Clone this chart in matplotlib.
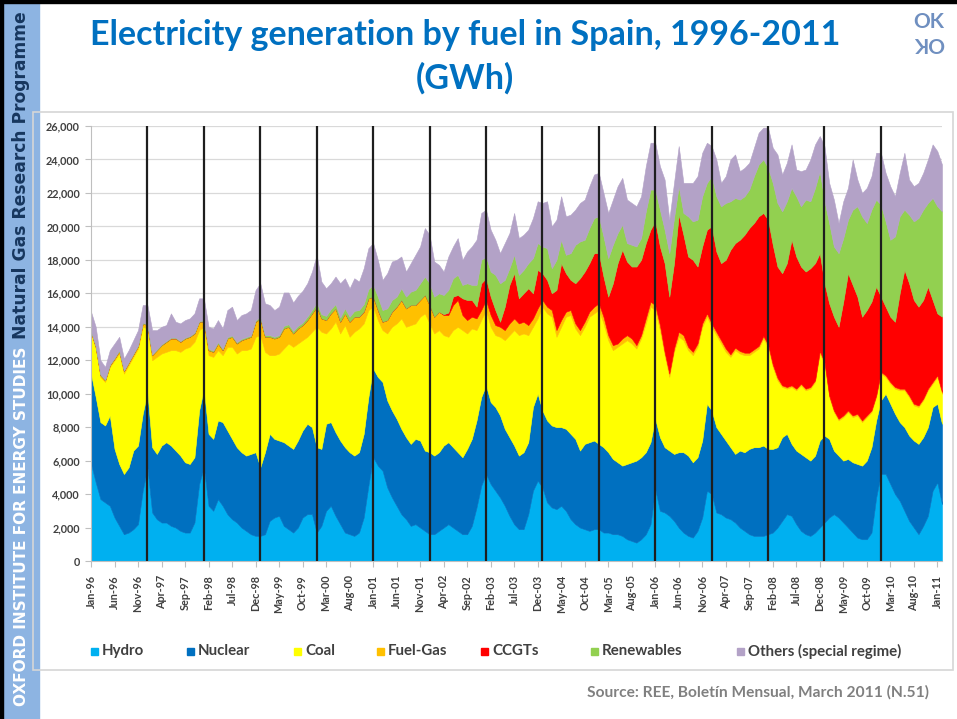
import matplotlib
matplotlib.use('Agg')
import matplotlib.pyplot as plt
from matplotlib.patches import Rectangle
import numpy as np

W, H = 957, 719

# Monthly generation, GWh, Jan-96 .. Feb-11 (one row per year)
hydro = [
    5800, 4700, 3700, 3500, 3300, 2600, 2100, 1600, 1700, 1900, 2200, 4200,
    5600, 2900, 2500, 2300, 2300, 2100, 2000, 1800, 1700, 1700, 2300, 4600,
    5600, 3300, 3000, 3700, 3300, 2800, 2500, 2300, 2000, 1800, 1600, 1500,
    1500, 1600, 2400, 2600, 2700, 2100, 1900, 1700, 2000, 2600, 2800, 2800,
    1700, 2100, 3000, 3300, 2700, 2200, 1700, 1600, 1500, 1700, 2600, 4500,
    6200, 5700, 5400, 4400, 3800, 3300, 2800, 2500, 2100, 2200, 2000, 1800,
    1600, 1600, 1800, 2000, 2200, 2000, 1800, 1600, 1600, 2100, 3200, 4500,
    5200, 4600, 4200, 3800, 3300, 2700, 2200, 1900, 1900, 2800, 4200, 4800,
    4400, 3500, 3200, 3100, 3300, 3000, 2500, 2200, 2000, 1900, 1800, 1900,
    1900, 1700, 1700, 1600, 1600, 1500, 1300, 1200, 1100, 1300, 1600, 2200,
    4300, 3000, 2900, 2700, 2400, 2000, 1700, 1500, 1400, 1800, 2600, 4200,
    4000, 2900, 2800, 2600, 2500, 2300, 2000, 1800, 1600, 1500, 1500, 1500,
    1600, 1700, 2000, 2400, 2800, 2700, 2200, 1800, 1600, 1500, 1700, 2000,
    2300, 2600, 2800, 2600, 2300, 2000, 1700, 1400, 1300, 1300, 1700, 3800,
    5200, 5200, 4600, 4000, 3600, 3000, 2400, 2000, 1600, 2100, 2700, 4200,
    4700, 3400,
]
nuclear = [
    5400, 5100, 4600, 4600, 5400, 4100, 3700, 3600, 3900, 4700, 4700, 4600,
    4500, 3900, 3900, 4600, 4800, 4800, 4600, 4500, 4200, 4100, 3900, 4400,
    4700, 4300, 4300, 4700, 5000, 5000, 4800, 4500, 4500, 4500, 4800, 5000,
    4100, 4900, 5200, 4700, 4500, 5000, 5000, 5000, 5200, 5200, 5400, 5200,
    5100, 4600, 5200, 5000, 5000, 5000, 5100, 4900, 4800, 4800, 5000, 5300,
    5300, 5300, 5300, 5200, 5200, 5200, 5100, 4900, 4900, 5100, 5200, 4800,
    4900, 4700, 4700, 4900, 4900, 4800, 4700, 4600, 5100, 5200, 5200, 5300,
    5300, 4900, 5000, 4900, 4600, 4700, 4700, 4400, 4600, 4300, 5000, 5200,
    4600, 4900, 4900, 4900, 4700, 4900, 5100, 5100, 4600, 5100, 5300, 5300,
    5100, 5100, 4800, 4500, 4300, 4200, 4500, 4700, 4900, 4900, 4900, 4900,
    4200, 4400, 3900, 3900, 4000, 4500, 4800, 4800, 4500, 4400, 4600, 5200,
    5000, 5100, 4800, 4600, 4300, 4100, 4600, 4700, 5100, 5300, 5300, 5400,
    5100, 5000, 4800, 5000, 4800, 4300, 4400, 4600, 4600, 4500, 4600, 5200,
    5200, 4700, 3800, 3700, 3700, 4100, 4200, 4400, 4400, 4700, 5100, 4600,
    4400, 4800, 4800, 4800, 4700, 5000, 5100, 5200, 5400, 5300, 5300, 5000,
    4700, 4800,
]
coal = [
    2400, 2900, 2700, 2600, 2900, 5300, 6600, 6000, 6100, 5600, 5800, 5200,
    3800, 5200, 5800, 5500, 5400, 5700, 6000, 6200, 6800, 7000, 6900, 4800,
    3700, 4700, 4900, 4200, 4000, 5000, 5500, 5600, 6100, 6300, 6300, 6900,
    7900, 6000, 4700, 5000, 5200, 5600, 6100, 6100, 5800, 5400, 5200, 5700,
    7200, 7000, 5400, 5600, 6600, 6400, 7300, 6900, 7400, 7400, 6600, 5200,
    3700, 3400, 3100, 4000, 5000, 5700, 6600, 6600, 7100, 6900, 7400, 8200,
    7700, 7300, 7300, 6600, 6300, 7000, 7500, 7600, 6900, 6600, 5400, 4600,
    4500, 4500, 4300, 4700, 5300, 6100, 6900, 7200, 7100, 6400, 4800, 4500,
    6200, 6400, 6500, 5400, 6000, 6700, 7100, 6600, 6900, 7000, 7500, 7600,
    8000, 7400, 6700, 6500, 6900, 7300, 7400, 7100, 6700, 7100, 7700, 8100,
    6500, 6400, 5500, 4400, 6100, 6900, 6700, 6300, 6400, 6600, 6800, 5200,
    5000, 5500, 5400, 5300, 5400, 6200, 5800, 5800, 5600, 5700, 5900, 6400,
    6100, 4900, 4000, 3000, 2700, 3400, 3600, 4100, 4000, 4300, 4400, 5200,
    4300, 2500, 2300, 2100, 2600, 2800, 2700, 2900, 2600, 2600, 2100, 1400,
    1600, 1000, 1200, 1500, 1900, 2200, 2300, 2100, 2200, 2200, 2200, 1400,
    1600, 1800,
]
fuel_gas = [
    100, 100, 100, 100, 100, 100, 150, 150, 150, 150, 150, 200,
    200, 300, 400, 500, 600, 700, 700, 600, 600, 600, 500, 500,
    300, 300, 300, 400, 300, 500, 600, 600, 600, 700, 700, 900,
    1000, 900, 1100, 1000, 1000, 1200, 1000, 800, 900, 900, 1000, 1100,
    1200, 800, 800, 900, 800, 700, 700, 900, 900, 700, 700, 700,
    600, 600, 500, 800, 900, 1000, 1100, 1100, 1200, 1100, 1000, 1100,
    1100, 1000, 1100, 1200, 1300, 1500, 1600, 900, 800, 700, 700, 600,
    600, 700, 600, 600, 600, 700, 700, 700, 700, 600, 500, 600,
    400, 400, 400, 400, 400, 300, 300, 300, 300, 300, 300, 400,
    400, 400, 300, 300, 200, 300, 300, 300, 200, 200, 300, 300,
    300, 300, 200, 200, 200, 300, 300, 200, 200, 200, 200, 200,
    200, 200, 200, 200, 150, 150, 150, 150, 150, 150, 150, 150,
    150, 150, 150, 100, 100, 100, 100, 100, 100, 100, 100, 150,
    100, 100, 100, 100, 100, 100, 100, 100, 100, 100, 100, 100,
    100, 100, 100, 100, 100, 100, 100, 100, 100, 100, 100, 100,
    100, 100,
]
ccgt = [
    0, 0, 0, 0, 0, 0, 0, 0, 0, 0, 0, 0,
    0, 0, 0, 0, 0, 0, 0, 0, 0, 0, 0, 0,
    0, 0, 0, 0, 0, 0, 0, 0, 0, 0, 0, 0,
    0, 0, 0, 0, 0, 0, 0, 0, 0, 0, 0, 0,
    0, 0, 0, 0, 0, 0, 0, 0, 0, 0, 0, 0,
    0, 0, 0, 0, 0, 0, 0, 0, 0, 0, 0, 0,
    0, 0, 0, 50, 150, 500, 300, 1000, 1200, 1000, 700, 1600,
    1300, 1100, 900, 300, 1400, 2300, 2700, 1500, 1700, 2200, 1500, 2300,
    1600, 1600, 1000, 2400, 3400, 2300, 1800, 2400, 3100, 3000, 2900, 3200,
    3000, 2400, 2300, 3700, 4800, 5300, 4400, 4300, 4700, 4500, 4500, 4300,
    5000, 4700, 5300, 4600, 5100, 7000, 6000, 5400, 5500, 4600, 4600, 5000,
    5800, 4800, 4600, 5300, 6250, 6250, 6650, 7050, 7450, 7550, 7750, 7350,
    7450, 7150, 6650, 6700, 7400, 8700, 7900, 7000, 7000, 7100, 7000, 5850,
    4700, 5500, 5600, 5500, 6800, 8200, 7800, 7000, 6200, 6300, 6500, 6500,
    4500, 4100, 3900, 3900, 5700, 7100, 6700, 6200, 5900, 5900, 6100, 4900,
    3700, 4500,
]
renewables = [
    50, 50, 50, 50, 50, 50, 50, 50, 50, 50, 50, 50,
    50, 50, 50, 50, 50, 50, 50, 50, 50, 50, 50, 50,
    80, 80, 80, 80, 80, 80, 80, 80, 80, 80, 80, 80,
    100, 100, 100, 100, 100, 150, 150, 150, 150, 150, 200, 200,
    250, 250, 250, 250, 250, 250, 300, 300, 350, 400, 450, 550,
    700, 800, 700, 700, 700, 600, 700, 700, 800, 900, 1000, 1100,
    1300, 1200, 1100, 1150, 1350, 1100, 1200, 800, 1000, 900, 1300, 1400,
    1300, 1500, 2100, 2300, 1600, 1000, 1100, 1400, 1400, 1500, 2100, 1600,
    1600, 1900, 1500, 1800, 1400, 1100, 1600, 2300, 2200, 1900, 2100, 2100,
    2200, 2400, 2300, 2300, 1800, 1500, 1100, 1300, 1200, 1300, 1900, 2400,
    1900, 2200, 2000, 2600, 2700, 1700, 1300, 2400, 2300, 2800, 3000, 2800,
    3000, 3300, 3400, 3400, 2900, 2700, 2400, 2300, 2300, 2800, 3100, 3200,
    3100, 3700, 3800, 3700, 3700, 3100, 3600, 3600, 4300, 4000, 4500, 4900,
    4900, 4800, 4200, 4400, 3800, 3200, 4500, 5400, 6000, 5200, 5500, 5200,
    5500, 5100, 4600, 5100, 4600, 3600, 4100, 4700, 5300, 5400, 5000, 6100,
    6400, 6300,
]
others = [
    1150, 1150, 850, 750, 850, 850, 800, 700, 700, 800, 900, 1050,
    1150, 1450, 1150, 1050, 950, 1450, 950, 1050, 1050, 1050, 1150, 1350,
    1320, 1320, 1320, 1320, 1220, 1620, 1720, 1320, 1420, 1420, 1520, 1820,
    2000, 1900, 1800, 1600, 1700, 2000, 1900, 1700, 1800, 1900, 2000, 2300,
    2850, 1950, 1650, 1550, 1650, 2050, 1800, 1700, 1950, 1700, 2150, 2450,
    2500, 2200, 1800, 2100, 2300, 2200, 1900, 1500, 1700, 2100, 2200, 2900,
    2900, 2100, 1700, 1400, 2000, 1900, 2200, 1500, 1900, 2300, 2700, 2800,
    2800, 2500, 2100, 1800, 2200, 2100, 2500, 2200, 2100, 2000, 2400, 2500,
    2600, 2800, 2500, 2400, 2600, 2300, 2300, 2100, 2300, 2400, 2500, 2600,
    2600, 2600, 2700, 2700, 2800, 2800, 2600, 2500, 2400, 2500, 2700, 2800,
    2800, 2600, 3000, 2000, 2100, 2400, 1800, 2000, 2300, 2600, 2600, 2400,
    1800, 2200, 1400, 1600, 2500, 2600, 1700, 1700, 1600, 1700, 1900, 1900,
    2400, 2100, 2900, 2200, 2300, 2600, 1600, 2100, 1800, 2500, 2600, 2100,
    3300, 2400, 2800, 1800, 2200, 1900, 3000, 1600, 1400, 2100, 2000, 2800,
    3100, 2900, 3200, 2400, 2600, 3400, 2100, 2100, 2100, 2200, 2600, 3200,
    3300, 2800,
]

tick_labels = ['Jan-96', 'Jun-96', 'Nov-96', 'Apr-97', 'Sep-97', 'Feb-98', 'Jul-98',
               'Dec-98', 'May-99', 'Oct-99', 'Mar-00', 'Aug-00', 'Jan-01', 'Jun-01',
               'Nov-01', 'Apr-02', 'Sep-02', 'Feb-03', 'Jul-03', 'Dec-03', 'May-04',
               'Oct-04', 'Mar-05', 'Aug-05', 'Jan-06', 'Jun-06', 'Nov-06', 'Apr-07',
               'Sep-07', 'Feb-08', 'Jul-08', 'Dec-08', 'May-09', 'Oct-09', 'Mar-10',
               'Aug-10', 'Jan-11']

names = ['Hydro', 'Nuclear', 'Coal', 'Fuel-Gas', 'CCGTs', 'Renewables',
         'Others (special regime)']
colors = ['#00B0F0', '#0070C0', '#FFFF00', '#FFC000', '#FF0000', '#92D050', '#B3A2C7']

plt.rcParams['font.family'] = ['Lato', 'DejaVu Sans']


def fx(px):
    return px / W


def fy(py):
    return 1 - py / H


fig = plt.figure(figsize=(W / 100, H / 100), dpi=100)

# slide decoration
fig.add_artist(Rectangle((0, 0), fx(39), 1, transform=fig.transFigure,
                         color='#8DB4E2', zorder=0))
fig.add_artist(Rectangle((0, 0), fx(3), 1, transform=fig.transFigure,
                         color='black', zorder=1))
fig.add_artist(Rectangle((0, fy(3)), 1, 3 / H, transform=fig.transFigure,
                         color='black', zorder=1))
fig.add_artist(Rectangle((fx(33), fy(670)), (953 - 33) / W, (670 - 112) / H,
                         transform=fig.transFigure, fill=False,
                         edgecolor='#D6D6D6', lw=1.2, zorder=0))

fig.text(fx(21), fy(706), 'OXFORD INSTITUTE FOR ENERGY STUDIES', rotation=90,
         rotation_mode='anchor', ha='left', va='center', color='white',
         fontsize=11, fontweight='bold', family='DejaVu Sans')
fig.text(fx(21), fy(11), 'Natural Gas Research Programme', rotation=90,
         rotation_mode='anchor', ha='right', va='center', color='#17375E',
         fontsize=12.3, fontweight='bold', family='DejaVu Sans')

fig.text(fx(465), fy(35), 'Electricity generation by fuel in Spain, 1996-2011',
         ha='center', va='center', fontsize=24.5, fontweight='bold', color='#0070C0')
fig.text(fx(465), fy(78), '(GWh)', ha='center', va='center', fontsize=24.5,
         fontweight='bold', color='#0070C0')

# logo
fig.text(fx(929), fy(22), 'OK', ha='center', va='center', fontsize=15,
         fontweight='bold', color='#6F8FC0')
fig.text(fx(929), fy(43), 'OK', ha='center', va='center', fontsize=15,
         fontweight='bold', color='#6F8FC0', rotation=180)

# chart
ax = fig.add_axes([fx(91), fy(561), (942 - 91) / W, (561 - 126) / H])
x = np.arange(len(hydro))
polys = ax.stackplot(x, hydro, nuclear, coal, fuel_gas, ccgt, renewables, others,
                     colors=colors, lw=0, zorder=2)
for p, c in zip(polys, colors):
    p.set_edgecolor(c)
    p.set_linewidth(0.4)

year_starts = np.arange(12, len(hydro) - 12, 12)
ax.vlines(year_starts, 0, 26000, colors='#1E1E1E', lw=1.6, zorder=3)

ax.set_xlim(0, len(hydro) - 1)
ax.set_ylim(0, 26000)
yt = np.arange(0, 26001, 2000)
ax.set_yticks(yt)
ax.set_yticklabels([f'{v:,}' for v in yt], fontsize=7.8, fontweight='bold',
                   color='#404040')
ax.set_xticks(np.arange(0, len(hydro), 5))
ax.set_xticklabels(tick_labels, rotation=90, fontsize=7.8, fontweight='bold',
                   color='#404040')
ax.yaxis.grid(True, color='#D9D9D9', lw=0.9)
ax.set_axisbelow(True)
for s in ['top', 'right']:
    ax.spines[s].set_visible(False)
ax.spines['left'].set_color('#BFBFBF')
ax.spines['bottom'].set_color('#BFBFBF')
ax.tick_params(axis='y', length=4, color='#BFBFBF', pad=4)
ax.tick_params(axis='x', length=4, color='#BFBFBF', pad=6)

# legend
marker_x = [94, 190, 297, 380, 484, 594, 740]
for mx, name, c in zip(marker_x, names, colors):
    fig.add_artist(Rectangle((fx(mx - 3.5), fy(654.5)), 7 / W, 7 / H,
                             transform=fig.transFigure, color=c))
    fig.text(fx(mx + 8), fy(651), name, ha='left', va='center', fontsize=10.8,
             fontweight='bold', color='#404040')

fig.text(fx(929), fy(692), 'Source: REE, Boletín Mensual, March 2011 (N.51)',
         ha='right', va='center', fontsize=11.2, fontweight='bold', color='#808080')

fig.savefig('out.png', dpi=100)
